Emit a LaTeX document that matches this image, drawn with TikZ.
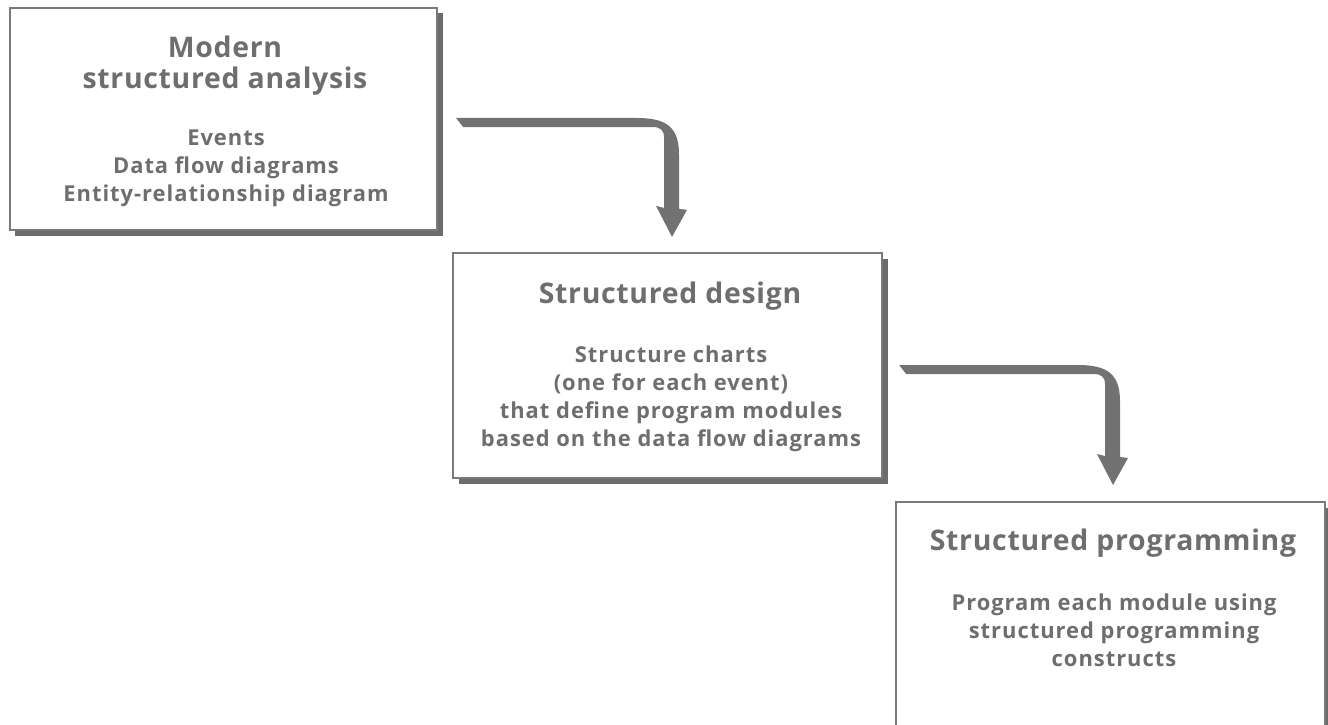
\documentclass[tikz,border=0pt]{standalone}
\usepackage{fontspec}
\setmainfont{Open Sans}
\newfontfamily\titlefam{Open Sans}[LetterSpace=2.5]
\newfontfamily\bodyfam{Open Sans}[LetterSpace=4.5]
\usetikzlibrary{calc,shadows}
\definecolor{txtgray}{HTML}{6E6E6E}
\definecolor{linegray}{HTML}{7A7A7A}
\definecolor{shadowgray}{HTML}{6C6C6C}
\definecolor{arrowgray}{HTML}{727272}
\tikzset{
  box/.style={draw=linegray, line width=2.2bp, fill=white, inner sep=0pt,
    drop shadow={shadow xshift=5.5bp, shadow yshift=-5.5bp, fill=shadowgray, opacity=1}},
  titletxt/.style={text=txtgray, font=\titlefam\bfseries\fontsize{28.5}{31}\selectfont, align=center, inner sep=0pt},
  bodytxt/.style={text=txtgray, font=\bodyfam\bfseries\fontsize{22}{28}\selectfont, align=center, inner sep=0pt},
  arrowfill/.style={fill=arrowgray, draw=none}
}
\newcommand\bentarrow[2]{%
  \fill[arrowfill] let \p1=(#1), \p2=(#2) in
   (\x1,\y1+4.5bp) -- (\x2-35bp,\y1+4.5bp)
   .. controls (\x2-5bp,\y1+4.5bp) and (\x2+7bp,\y1-5bp) .. (\x2+7bp,\y1-32bp)
   -- (\x2+7bp,\y2+28bp) -- (\x2+15bp,\y2+27bp) -- (\x2,\y2)
   -- (\x2-16bp,\y2+31bp) -- (\x2-8bp,\y2+29bp) -- (\x2-8bp,\y1-15bp)
   .. controls (\x2-8bp,\y1-7bp) and (\x2-12bp,\y1-4.5bp) .. (\x2-20bp,\y1-4.5bp)
   -- (\x1+7bp,\y1-4.5bp) -- cycle;}
\begin{document}
\begin{tikzpicture}[x=1bp,y=-1bp]
\useasboundingbox (0,0) rectangle (1328,724);
\clip (0,0) rectangle (1328,724);
% boxes
\node[box, minimum width=427bp, minimum height=222bp] (b1) at (223.5,119) {};
\node[box, minimum width=429bp, minimum height=225bp] (b2) at (667.5,365.5) {};
\node[box, minimum width=429bp, minimum height=280bp, anchor=north] (b3) at (1110.5,501) {};
% texts
\node[titletxt] (b1t) at (225,66) {Modern\\structured analysis};
\node[bodytxt] (b1b) at (226,168) {Events\\Data flow diagrams\\Entity-relationship diagram};
\node[titletxt] (b2t) at (670,296) {Structured design};
\node[bodytxt] (b2b) at (671,399) {Structure charts\\(one for each event)\\that define program modules\\based on the data flow diagrams};
\node[titletxt] (b3t) at (1113,543) {Structured programming};
\node[bodytxt] (b3b) at (1114,630) {Program each module using\\structured programming\\constructs};
% arrows
\coordinate (s1) at ($(b1.east)+(18,3.5)$);
\coordinate (t1) at ($(b2.north)+(4.5,-15)$);
\coordinate (s2) at ($(b2.east)+(16,4)$);
\coordinate (t2) at ($(b3.north)+(2.5,-16)$);
\bentarrow{s1}{t1}
\bentarrow{s2}{t2}
\end{tikzpicture}
\end{document}
